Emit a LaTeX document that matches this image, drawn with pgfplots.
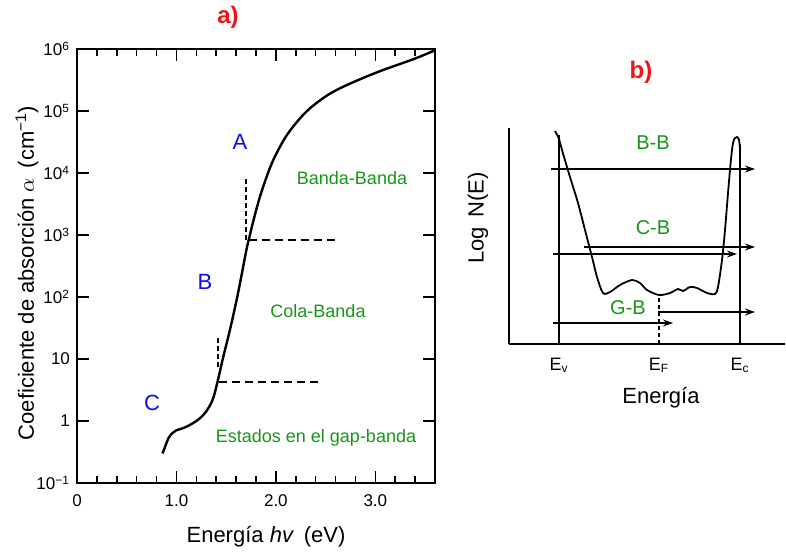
\documentclass[border=0pt]{standalone}
\usepackage{pgfplots}
\pgfplotsset{compat=1.18}
\usepackage{fontspec}
\setmainfont{Liberation Sans}
\usetikzlibrary{arrows.meta}

\definecolor{lblgreen}{RGB}{22,150,22}
\definecolor{lblblue}{RGB}{10,10,245}
\definecolor{lblred}{RGB}{240,20,20}

\newcommand{\fs}[1]{\fontsize{#1}{#1}\selectfont}

\begin{document}
\begin{tikzpicture}
\useasboundingbox (0,0) rectangle (393pt,277pt);

% ---------- a) absorption coefficient vs photon energy ----------
\begin{axis}[
  at={(38.5pt,35.5pt)}, anchor=south west,
  scale only axis, width=179pt, height=217pt,
  xmin=0, xmax=3.6,
  ymode=log, ymin=0.1, ymax=1e6,
  xtick={0,1,2,3}, xticklabels={0,1.0,2.0,3.0},
  minor xtick={0.2,0.4,0.6,0.8,1.2,1.4,1.6,1.8,2.2,2.4,2.6,2.8,3.2,3.4},
  ytick={0.1,1,10,100,1000,10000,100000,1000000},
  yticklabels={10\textsuperscript{−1},1,10,10\textsuperscript{2},10\textsuperscript{3},10\textsuperscript{4},10\textsuperscript{5},10\textsuperscript{6}},
  yminorticks=false,
  tick align=inside,
  major tick length=6pt, minor tick length=3.5pt,
  tick style={line width=0.8pt, black},
  axis line style={line width=1pt},
  ticklabel style={font=\fs{8.5}},
  xticklabel style={yshift=-2.5pt},
  clip=true,
]
% measured absorption edge
\addplot[black, line width=1.2pt, smooth, tension=0.6] coordinates {
  (0.86,0.30) (0.89,0.40) (0.92,0.53) (0.96,0.64) (1.0,0.71)
  (1.06,0.76) (1.12,0.84) (1.20,1.0) (1.27,1.25) (1.33,1.7)
  (1.374,2.45) (1.42,4.8) (1.47,10.7) (1.545,33) (1.62,117)
  (1.70,537) (1.727,832) (1.78,1860) (1.85,4680) (1.95,13200)
  (2.05,28200) (2.15,50100) (2.30,95500) (2.45,151000) (2.60,214000)
  (2.80,302000) (3.06,447000) (3.39,692000) (3.6,955000)
};
% region boundaries
\addplot[black, line width=0.8pt, dash pattern=on 4pt off 2.5pt] coordinates {(1.727,832) (2.59,832)};
\addplot[black, line width=0.8pt, dash pattern=on 2.5pt off 1.5pt] coordinates {(1.70,832) (1.70,8300)};
\addplot[black, line width=0.8pt, dash pattern=on 4pt off 2.5pt] coordinates {(1.43,4.27) (2.47,4.27)};
\addplot[black, line width=0.8pt, dash pattern=on 2.5pt off 1.5pt] coordinates {(1.42,7.4) (1.42,22.4)};
\end{axis}

% ---------- b) density of states sketch ----------
\begin{axis}[
  at={(254.5pt,105pt)}, anchor=south west,
  scale only axis, width=138pt, height=108pt,
  xmin=0, xmax=276, ymin=0, ymax=216,
  axis lines=left, axis line style={-, line width=0.9pt},
  ticks=none, clip=false,
]
\addplot[black, line width=0.9pt, smooth, tension=0.5] coordinates {
  (46,213) (50,205) (53,194) (61,167) (69,141) (76,114) (83,87) (88,67)
  (94,51) (101,52) (111,59) (123,64) (131,61) (138,54) (150,49) (161,51)
  (169,55) (174,53) (181,57) (188,56) (198,51) (206,50) (209,57) (213,84)
  (216,114) (219,151) (222,185) (224,201) (226,206) (228,207) (230,204) (231,195)
};
% band edges and Fermi level
\addplot[black, line width=0.9pt] coordinates {(50,0) (50,209)};
\addplot[black, line width=0.9pt] coordinates {(231,0) (231,200)};
\addplot[black, line width=0.8pt, dash pattern=on 2pt off 1.5pt] coordinates {(150,0) (150,47)};
% optical transitions
\addplot[black, line width=0.7pt, -{Stealth[length=5pt,width=3.5pt]}] coordinates {(42,175) (246,175)};
\addplot[black, line width=0.7pt, -{Stealth[length=5pt,width=3.5pt]}] coordinates {(75,97) (246,97)};
\addplot[black, line width=0.7pt, -{Stealth[length=5pt,width=3.5pt]}] coordinates {(44,90) (228,90)};
\addplot[black, line width=0.7pt, -{Stealth[length=5pt,width=3.5pt]}] coordinates {(44,21) (164,21)};
\addplot[black, line width=0.7pt, -{Stealth[length=5pt,width=3.5pt]}] coordinates {(149,32) (246,32)};
\end{axis}

% ---------- labels (positions in 0.5pt units from the top-left corner) ----------
\begin{scope}[x=0.5pt, y=-0.5pt, shift={(0,277pt)}]
  \node[text=lblred, font=\fs{12}\bfseries] at (228,17) {a)};
  \node[text=lblred, font=\fs{12}\bfseries] at (641,72) {b)};

  \node[text=lblblue, font=\fs{11}] at (240,142) {A};
  \node[text=lblblue, font=\fs{11}] at (205,282) {B};
  \node[text=lblblue, font=\fs{11}] at (152,403) {C};

  \node[text=lblgreen, font=\fs{9}] at (352,178) {Banda-Banda};
  \node[text=lblgreen, font=\fs{9}] at (318,311) {Cola-Banda};
  \node[text=lblgreen, font=\fs{9}] at (316,438) {Estados en el gap-banda};

  \node[font=\fs{11}] at (266,537) {Energía \textit{hv}\, (eV)};
  \node[font=\fs{11}, rotate=90] at (27,273) {Coeficiente de absorción $\alpha$\, (cm\textsuperscript{−1})};

  \node[font=\fs{11}, rotate=90] at (478,218) {Log\, N(E)};
  \node[font=\fs{11}] at (661,398) {Energía};
  \node[font=\fs{9}] at (559,365) {E\textsubscript{v}};
  \node[font=\fs{9}] at (659,365) {E\textsubscript{F}};
  \node[font=\fs{9}] at (740,365) {E\textsubscript{c}};

  \node[text=lblgreen, font=\fs{10}] at (653,143) {B-B};
  \node[text=lblgreen, font=\fs{10}] at (653,228) {C-B};
  \node[text=lblgreen, font=\fs{10}] at (628,308) {G-B};
\end{scope}
\end{tikzpicture}
\end{document}
